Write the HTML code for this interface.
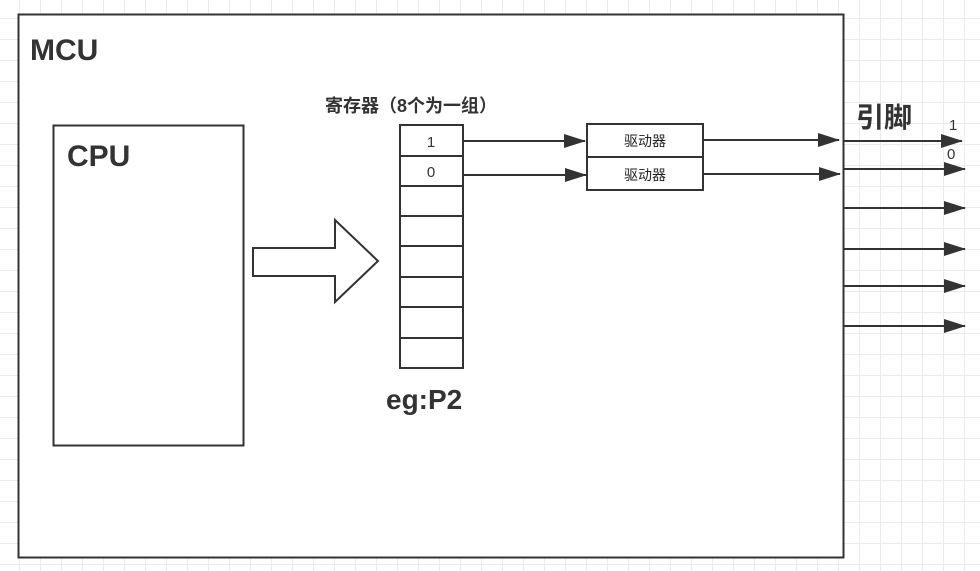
<!DOCTYPE html>
<html><head><meta charset="utf-8"><style>
html,body{margin:0;padding:0;}
body{width:980px;height:571px;overflow:hidden;background:#fff;
background-image:linear-gradient(#ececec 1px,transparent 1px),linear-gradient(90deg,#ececec 1px,transparent 1px);
background-size:21px 21px;background-position:-2px -3px;font-family:"Liberation Sans","Noto Sans CJK SC",sans-serif;}
</style></head><body>
<svg width="980" height="571" style="position:absolute;left:0;top:0" font-family="Liberation Sans, Noto Sans CJK SC, sans-serif">
<defs><marker id="a" markerWidth="10" markerHeight="8" refX="9" refY="4" orient="auto" markerUnits="userSpaceOnUse"><path d="M0,0 L20,4 L0,8 Z" fill="#333" transform="scale(0.5,1)"/></marker>
<marker id="b" markerWidth="22" markerHeight="14" refX="21" refY="7" orient="auto" markerUnits="userSpaceOnUse"><path d="M0,0 L22,7 L0,14 Z" fill="#333"/></marker></defs>
<rect x="18.5" y="14.5" width="825" height="543" fill="#fff" stroke="#333" stroke-width="2"/>
<text x="30" y="60" font-size="30" font-weight="bold" fill="#333">MCU</text>
<rect x="53.5" y="125.5" width="190" height="320" fill="#fff" stroke="#333" stroke-width="2"/>
<text x="67" y="166" font-size="30" font-weight="bold" fill="#333">CPU</text>
<path d="M253,248 L335,248 L335,220 L378,261 L335,302 L335,276 L253,276 Z" fill="#fff" stroke="#333" stroke-width="2"/>
<text x="325" y="112" font-size="18" font-weight="bold" fill="#333">寄存器（8个为一组）</text>
<g fill="#fff" stroke="#333" stroke-width="2">
<rect x="400" y="125" width="63" height="31"/><rect x="400" y="156" width="63" height="30"/>
<rect x="400" y="186" width="63" height="30"/><rect x="400" y="216" width="63" height="30"/>
<rect x="400" y="246" width="63" height="31"/><rect x="400" y="277" width="63" height="30"/>
<rect x="400" y="307" width="63" height="31"/><rect x="400" y="338" width="63" height="30"/>
<rect x="587" y="124" width="116" height="33"/><rect x="587" y="157" width="116" height="33"/>
</g>
<text x="431" y="147" font-size="15" fill="#333" text-anchor="middle">1</text>
<text x="431" y="177" font-size="15" fill="#333" text-anchor="middle">0</text>
<text x="645" y="146" font-size="14" fill="#222" text-anchor="middle">驱动器</text>
<text x="645" y="180" font-size="14" fill="#222" text-anchor="middle">驱动器</text>
<text x="386" y="409" font-size="28" font-weight="bold" fill="#333">eg:P2</text>
<text x="856" y="127" font-size="28" font-weight="bold" fill="#333">引脚</text>
<text x="949" y="130" font-size="15" fill="#333">1</text>
<text x="947" y="159" font-size="15" fill="#333">0</text>
<g stroke="#333" stroke-width="2" marker-end="url(#b)">
<line x1="464" y1="141" x2="585" y2="141"/><line x1="464" y1="175" x2="586" y2="175"/>
<line x1="703" y1="140" x2="839" y2="140"/><line x1="703" y1="174" x2="840" y2="174"/>
<line x1="844" y1="141" x2="962" y2="141"/><line x1="844" y1="169" x2="965" y2="169"/>
<line x1="844" y1="208" x2="965" y2="208"/><line x1="844" y1="249" x2="965" y2="249"/>
<line x1="844" y1="286" x2="965" y2="286"/><line x1="844" y1="326" x2="965" y2="326"/>
</g>
</svg>
</body></html>
